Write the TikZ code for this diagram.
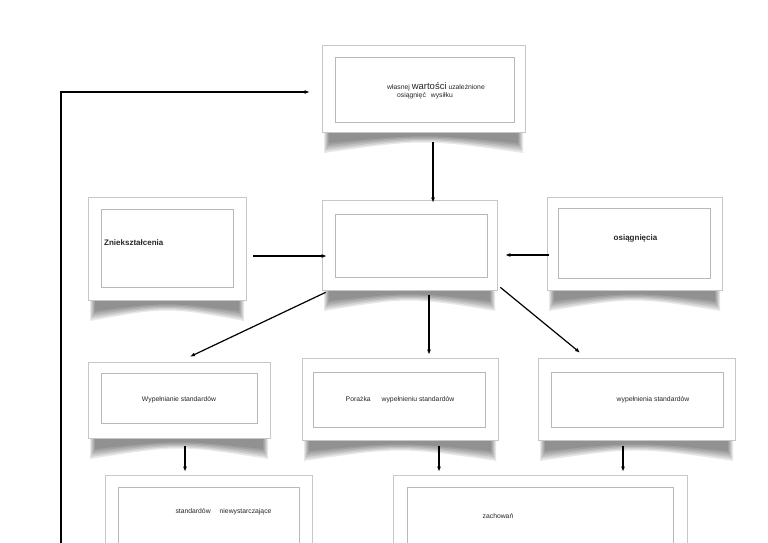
\documentclass[tikz,border=0pt]{standalone}
\usepackage{fontspec}
\setmainfont{Liberation Sans}
\usetikzlibrary{arrows.meta}
\begin{document}
\begin{tikzpicture}[x=1pt,y=-1pt,
  outerbox/.style={draw=black!22,fill=white,line width=0.7pt,inner sep=0pt},
  innerbox/.style={draw=black!28,line width=0.6pt},
  lbl/.style={font=\fontsize{6.8}{8}\selectfont,text=black!85,inner sep=0pt},
  blbl/.style={font=\fontsize{8}{9}\selectfont\bfseries,text=black!85,inner sep=0pt},
  arr/.style={-{Latex[length=5pt,width=4pt]},line width=1.2pt,black}]
\useasboundingbox (0,0) rectangle (768,543);
\begin{scope}
\clip (0,0) rectangle (768,543);
% shadows
\foreach \xa/\xb/\yb in {322/525/132, 88/246/300, 322/497/290, 547/722/290, 88/270/438, 302/498/440, 538/735/440}{
  \foreach \k in {0,...,5}{
    \fill[black,opacity=0.09]
      (\xa+2+\k,\yb-2) -- (\xa+2+\k,\yb+21-2*\k) .. controls ({(\xa+\xb)/2},\yb+7-\k) .. (\xb-2-\k,\yb+21-2*\k) -- (\xb-2-\k,\yb-2) -- cycle;
  }
}
% boxes
\node[outerbox,minimum width=203pt,minimum height=87pt] (top) at (423.5,88.5) {};
\draw[innerbox] (335,57) rectangle (514,122);
\node[outerbox,minimum width=158pt,minimum height=103pt] (left) at (167,248.5) {};
\draw[innerbox] (101,209) rectangle (233,287);
\node[outerbox,minimum width=175pt,minimum height=90pt] (ctr) at (409.5,245) {};
\draw[innerbox] (335,214) rectangle (487,277);
\node[outerbox,minimum width=175pt,minimum height=93pt] (right) at (634.5,243.5) {};
\draw[innerbox] (558,208) rectangle (710,278);
\node[outerbox,minimum width=182pt,minimum height=76pt] (rtl) at (179,400) {};
\draw[innerbox] (101,373) rectangle (257,423);
\node[outerbox,minimum width=196pt,minimum height=82pt] (rtm) at (400,399) {};
\draw[innerbox] (313,372) rectangle (485,427);
\node[outerbox,minimum width=197pt,minimum height=82pt] (rtr) at (636.5,399) {};
\draw[innerbox] (551,372) rectangle (723,427);
\node[outerbox,minimum width=207pt,minimum height=105pt] (rfl) at (208.5,527.5) {};
\draw[innerbox] (118,487) rectangle (299,570);
\node[outerbox,minimum width=294pt,minimum height=105pt] (rfr) at (540,527.5) {};
\draw[innerbox] (407,487) rectangle (673,570);
% texts
\node[lbl] (t1) at (436,87) {własnej {\fontsize{9.5}{9.5}\selectfont wartości} uzależnione};
\node[lbl] (t1b) at (425,96) {osiągnięć\hspace{5pt}wysiłku};
\node[blbl,anchor=west] (t2) at (104,243) {Zniekształcenia};
\node[blbl] (t3) at (635.5,238) {osiągnięcia};
\node[lbl] (t4) at (179,400) {Wypełnianie standardów};
\node[lbl] (t5) at (400,400) {Porażka\hspace{11pt}wypełnieniu standardów};
\node[lbl] (t6) at (653,400) {wypełnienia standardów};
\node[lbl] (t7) at (223.5,512) {standardów\hspace{9pt}niewystarczające};
\node[lbl] (t8) at (498,516) {zachowań};
% arrows
\draw[arr] ([xshift=9.5pt,yshift=-10pt]top.south) -- ([xshift=23.5pt,yshift=-3pt]ctr.north);
\draw[arr] ([xshift=7pt,yshift=-7.5pt]left.east) -- ([xshift=5pt,yshift=-11pt]ctr.west);
\draw[arr] ([xshift=2pt,yshift=-11.5pt]right.west) -- ([xshift=8pt,yshift=-10pt]ctr.east);
\draw[arr] ([xshift=4pt,yshift=-2pt]ctr.south west) -- ([xshift=11pt,yshift=5pt]rtl.north);
\draw[arr] ([xshift=19.5pt,yshift=-5pt]ctr.south) -- ([xshift=29pt,yshift=3pt]rtm.north);
\draw[arr] ([xshift=3pt,yshift=3pt]ctr.south east) -- ([xshift=-56.5pt,yshift=5pt]rtr.north);
\draw[arr] ([xshift=6pt,yshift=-8pt]rtl.south) -- ([xshift=-23.5pt,yshift=3pt]rfl.north);
\draw[arr] ([xshift=39pt,yshift=-6pt]rtm.south) -- ([xshift=-101pt,yshift=3pt]rfr.north);
\draw[arr] ([xshift=-13.5pt,yshift=-6pt]rtr.south) -- ([xshift=83pt,yshift=3pt]rfr.north);
\coordinate (fb) at (61,546);
\draw[arr] (fb) |- ([xshift=-12pt,yshift=-3.5pt]top.west);
\end{scope}
\end{tikzpicture}
\end{document}
